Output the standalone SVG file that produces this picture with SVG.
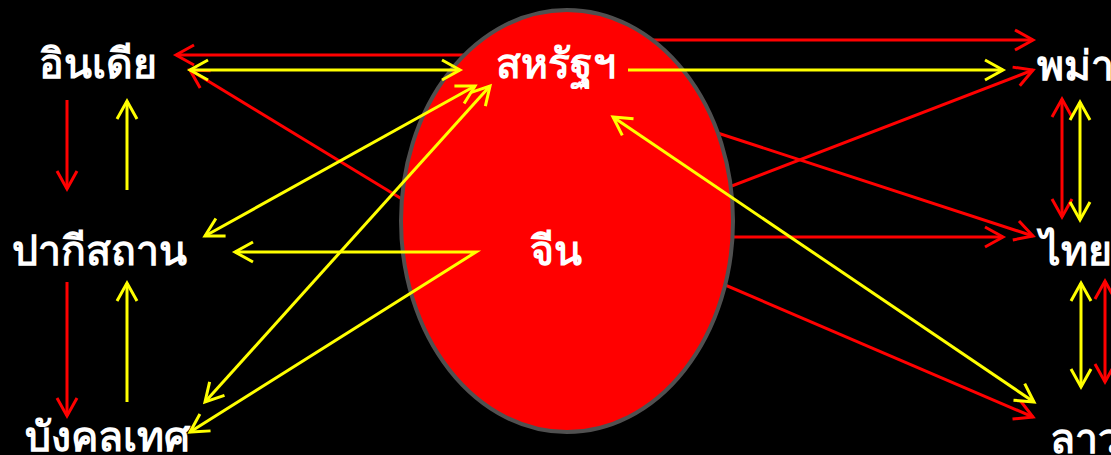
<svg xmlns="http://www.w3.org/2000/svg" width="1111" height="455" viewBox="0 0 1111 455">
<style>
.r{stroke:#ff0000;stroke-width:3;fill:none}
.y{stroke:#ffff00;stroke-width:3;fill:none}
.lbl{fill:#ffffff;font-family:"Liberation Serif","Noto Sans",serif;font-weight:bold;font-size:41px;text-anchor:middle}
</style>
<defs>
<marker id="mr" markerUnits="userSpaceOnUse" markerWidth="40" markerHeight="40" refX="0" refY="0" viewBox="-20 -20 40 40" orient="auto-start-reverse"><path d="M-18,-10 L0,0 L-18,10" fill="none" stroke="#ff0000" stroke-width="3"/></marker>
<marker id="my" markerUnits="userSpaceOnUse" markerWidth="40" markerHeight="40" refX="0" refY="0" viewBox="-20 -20 40 40" orient="auto-start-reverse"><path d="M-18,-10 L0,0 L-18,10" fill="none" stroke="#ffff00" stroke-width="3"/></marker>
</defs>
<rect width="1111" height="455" fill="#000000"/>
<g id="connectors-back">
<line class="r" x1="520" y1="55" x2="176" y2="55" marker-end="url(#mr)"/>
<line class="r" x1="420" y1="210" x2="190" y2="70" marker-end="url(#mr)"/>
<line class="r" x1="600" y1="40" x2="1033" y2="40" marker-end="url(#mr)"/>
<line class="r" x1="690" y1="202" x2="1033" y2="70" marker-end="url(#mr)"/>
<line class="r" x1="690" y1="124" x2="1033" y2="236" marker-end="url(#mr)"/>
<line class="r" x1="700" y1="237" x2="1003" y2="237" marker-end="url(#mr)"/>
<line class="r" x1="690" y1="270" x2="1033" y2="417" marker-end="url(#mr)"/>
</g>
<g id="china-bubble">
<ellipse cx="567" cy="221" rx="166" ry="211" fill="#ff0000" stroke="#505050" stroke-width="4"/>
</g>
<g id="connectors">
<line class="r" x1="67" y1="100" x2="67" y2="189" marker-end="url(#mr)"/>
<line class="y" x1="127" y1="190" x2="127" y2="101" marker-end="url(#my)"/>
<line class="r" x1="67" y1="282" x2="67" y2="416" marker-end="url(#mr)"/>
<line class="y" x1="127" y1="402" x2="127" y2="283" marker-end="url(#my)"/>
<line class="r" x1="1062" y1="99" x2="1062" y2="217" marker-start="url(#mr)" marker-end="url(#mr)"/>
<line class="y" x1="1080" y1="102" x2="1080" y2="220" marker-start="url(#my)" marker-end="url(#my)"/>
<line class="y" x1="1081" y1="283" x2="1081" y2="387" marker-start="url(#my)" marker-end="url(#my)"/>
<line class="r" x1="1105" y1="281" x2="1105" y2="382" marker-start="url(#mr)" marker-end="url(#mr)"/>
<line class="y" x1="190" y1="70" x2="460" y2="70" marker-start="url(#my)" marker-end="url(#my)"/>
<line class="y" x1="628" y1="70" x2="1003" y2="70" marker-end="url(#my)"/>
<line class="y" x1="205" y1="236" x2="475" y2="86" marker-start="url(#my)" marker-end="url(#my)"/>
<polyline class="y" points="235,252 476,252 190,432" marker-start="url(#my)" marker-end="url(#my)"/>
<line class="y" x1="205" y1="402" x2="490" y2="86" marker-start="url(#my)" marker-end="url(#my)"/>
<line class="y" x1="613" y1="117" x2="1034" y2="402" marker-start="url(#my)" marker-end="url(#my)"/>
</g>
<g id="india"><text class="lbl" x="98" y="78">อินเดีย</text></g>
<g id="usa"><text class="lbl" x="556" y="78">สหรัฐฯ</text></g>
<g id="pakistan"><text class="lbl" x="99" y="265">ปากีสถาน</text></g>
<g id="china"><text class="lbl" x="556" y="265">จีน</text></g>
<g id="bangladesh"><text class="lbl" x="107" y="451">บังคลเทศ</text></g>
<g id="myanmar"><text class="lbl" x="1037" y="80" style="text-anchor:start">พม่า</text></g>
<g id="thailand"><text class="lbl" x="1040" y="265" style="text-anchor:start">ไทย</text></g>
<g id="laos"><text class="lbl" x="1050" y="453" style="text-anchor:start">ลาว</text></g>
</svg>
